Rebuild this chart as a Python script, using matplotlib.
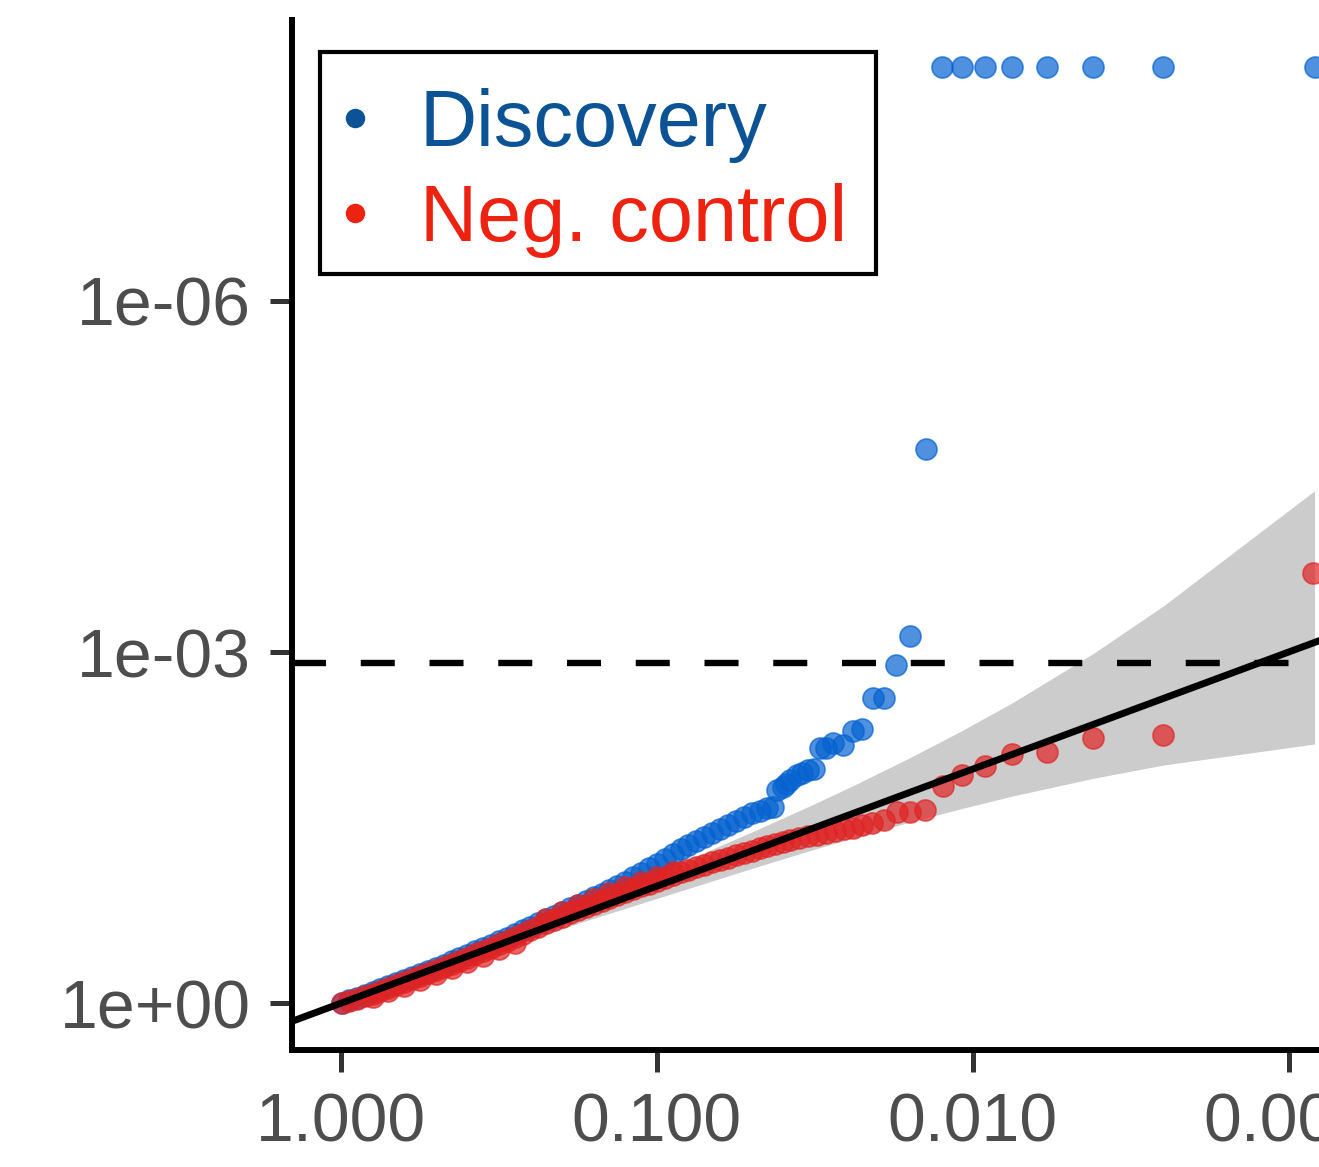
import matplotlib
matplotlib.use("Agg")
import numpy as np
import matplotlib.pyplot as plt
from matplotlib.patches import Rectangle
from matplotlib.lines import Line2D
from matplotlib.ticker import NullLocator

plt.rcParams['font.family'] = ['Liberation Sans', 'DejaVu Sans']
plt.rcParams['lines.scale_dashes'] = False

# values are -log10(p)
disc_exp = [3.082, 2.601, 2.380, 2.234, 2.123, 2.038, 1.965, 1.902,
            1.851, 1.801, 1.756, 1.718, 1.684, 1.649, 1.620, 1.589,
            1.557, 1.535, 1.516, 1.497, 1.478, 1.460, 1.443, 1.421,
            1.410, 1.399, 1.380, 1.367,
            1.350, 1.325, 1.300, 1.275, 1.250, 1.225, 1.200, 1.175,
            1.150, 1.125, 1.100, 1.075, 1.050, 1.025, 1.000, 0.975,
            0.950, 0.925, 0.900, 0.875, 0.850, 0.825, 0.800, 0.775,
            0.750, 0.725, 0.700, 0.675, 0.650, 0.625, 0.600, 0.575,
            0.550, 0.525, 0.500, 0.475, 0.450, 0.425, 0.400, 0.375,
            0.350, 0.325, 0.300, 0.275, 0.250, 0.225, 0.200, 0.175,
            0.150, 0.125, 0.100, 0.075, 0.050, 0.025, 0.003]
disc_obs = [8.0, 8.0, 8.0, 8.0, 8.0, 8.0, 8.0, 8.0,
            4.735, 3.137, 2.889, 2.607, 2.607, 2.342, 2.325, 2.205,
            2.222, 2.179, 2.179, 2.000, 1.991, 1.970, 1.949, 1.906,
            1.870, 1.846, 1.821, 1.675,
            1.665, 1.645, 1.625, 1.590, 1.555, 1.520, 1.485, 1.453,
            1.420, 1.388, 1.355, 1.314, 1.272, 1.231, 1.190, 1.151,
            1.112, 1.074, 1.035, 1.002, 0.970, 0.937, 0.905, 0.873,
            0.842, 0.810, 0.778, 0.747, 0.715, 0.684, 0.652, 0.621,
            0.590, 0.559, 0.528, 0.499, 0.470, 0.442, 0.413, 0.386,
            0.358, 0.330, 0.303, 0.277, 0.251, 0.226, 0.200, 0.174,
            0.147, 0.121, 0.095, 0.071, 0.047, 0.023, 0.000]

ctrl_exp = [3.076, 2.601, 2.380, 2.234, 2.123, 2.038, 1.965, 1.905,
            1.848, 1.801, 1.759, 1.718, 1.680, 1.649, 1.620, 1.592,
            1.563, 1.535, 1.506, 1.478, 1.449, 1.421,
            1.400, 1.375, 1.350, 1.325, 1.300, 1.275, 1.250, 1.225,
            1.200, 1.175, 1.150, 1.125, 1.100, 1.075, 1.050, 1.025,
            1.000, 0.975, 0.950, 0.925, 0.900, 0.875, 0.850, 0.825,
            0.800, 0.775, 0.750, 0.725, 0.700, 0.675, 0.650, 0.625,
            0.600, 0.575, 0.550, 0.525, 0.500, 0.475, 0.450, 0.425,
            0.400, 0.375, 0.350, 0.325, 0.300, 0.275, 0.250, 0.225,
            0.200, 0.175, 0.150, 0.125, 0.100, 0.075, 0.050, 0.025,
            0.003,
            # points on the upper and lower rim of the dense red ribbon
            1.050, 1.000, 0.950, 0.900, 0.850, 0.800, 0.750, 0.700,
            0.650, 0.550, 0.500, 0.450, 0.400, 0.350, 0.300, 0.250,
            0.200, 0.150, 0.100]
ctrl_obs = [3.675, 2.291, 2.265, 2.145, 2.128, 2.026, 1.949, 1.855,
            1.650, 1.632, 1.632, 1.564, 1.538, 1.521, 1.496, 1.487,
            1.470, 1.453, 1.436, 1.427, 1.410, 1.393,
            1.380, 1.361, 1.342, 1.323, 1.304, 1.284, 1.264, 1.243,
            1.223, 1.203, 1.182, 1.162, 1.142, 1.118, 1.094, 1.069,
            1.045, 1.021, 0.998, 0.974, 0.950, 0.924, 0.898, 0.872,
            0.846, 0.820, 0.793, 0.767, 0.740, 0.711, 0.681, 0.652,
            0.622, 0.592, 0.562, 0.532, 0.502, 0.474, 0.446, 0.418,
            0.390, 0.364, 0.337, 0.311, 0.284, 0.258, 0.231, 0.205,
            0.178, 0.153, 0.128, 0.103, 0.078, 0.058, 0.039, 0.019,
            0.000,
            1.120, 1.080, 1.035, 0.990, 0.940, 0.890, 0.835, 0.780,
            0.720, 0.515, 0.460, 0.405, 0.350, 0.300, 0.250, 0.200,
            0.150, 0.100, 0.050]

# 95% band around the diagonal
band_exp = [0.0004, 0.1795, 0.481, 0.783, 1.086, 1.311, 1.491, 1.620,
            1.803, 1.968, 2.128, 2.383, 2.605, 3.082]
band_lo = [0.0, 0.155, 0.434, 0.711, 0.968, 1.160, 1.309, 1.410,
           1.549, 1.665, 1.771, 1.922, 2.035, 2.214]
band_hi = [0.0027, 0.205, 0.532, 0.868, 1.212, 1.475, 1.694, 1.857,
           2.100, 2.332, 2.571, 2.990, 3.397, 4.378]

threshold = 0.00125

x_ticks = [1, 0.1, 0.01, 0.001]
x_labels = ["1.000", "0.100", "0.010", "0.001"]
y_ticks = [1, 1e-3, 1e-6]
y_labels = ["1e+00", "1e-03", "1e-06"]

legend_labels = ["Discovery", "Neg. control"]
legend_colors = ["#0b5394", "#ee2211"]
point_blue = "#0562d0"
point_red = "#e02424"

W, H = 1319, 1167
fig = plt.figure(figsize=(W / 100, H / 100), dpi=100)
ax = fig.add_axes([292 / W, (H - 1050) / H, (1366 - 292) / W, (1050 - 20) / H])
ax.set_xscale('log')
ax.set_yscale('log')
ax.set_xlim(10 ** 0.155, 10 ** -3.245)
ax.set_ylim(10 ** 0.40, 10 ** -8.4)

p = lambda v: 10.0 ** -np.asarray(v)

ax.fill_between(p(band_exp), p(band_lo), p(band_hi), color='#cccccc', lw=0, zorder=1)
ax.axhline(threshold, color='black', lw=4.6, dashes=(24.5, 25), zorder=2)
ax.scatter(p(disc_exp), p(disc_obs), s=230, color=point_blue, alpha=0.7,
           linewidths=1.2, zorder=3)
ax.scatter(p(ctrl_exp), p(ctrl_obs), s=230, color=point_red, alpha=0.7,
           linewidths=1.2, zorder=4)
ax.plot([10, 1e-5], [10, 1e-5], color='black', lw=5, zorder=5)

ax.set_xticks(x_ticks, x_labels)
ax.set_yticks(y_ticks, y_labels)
ax.xaxis.set_minor_locator(NullLocator())
ax.yaxis.set_minor_locator(NullLocator())
ax.tick_params(axis='both', which='major', length=15.8, width=3.6,
               color='#333333', labelcolor='#4d4d4d', labelsize=49, pad=14)
for side in ['top', 'right']:
    ax.spines[side].set_visible(False)
for side in ['left', 'bottom']:
    ax.spines[side].set_linewidth(4.3)
    ax.spines[side].set_color('black')

# legend box drawn by hand
fig.add_artist(Rectangle((320 / W, 1 - 274 / H), (876 - 320) / W, (274 - 52) / H,
                         transform=fig.transFigure, facecolor='white',
                         edgecolor='black', lw=3, zorder=10))
for lab, col, dot_y, base_y in zip(legend_labels, legend_colors, [118, 213], [146, 241]):
    fig.add_artist(Line2D([355 / W], [1 - dot_y / H], marker='o', ms=13,
                          color=col, transform=fig.transFigure, zorder=11))
    fig.text(420 / W, 1 - base_y / H, lab, color=col, fontsize=57,
             va='baseline', ha='left', zorder=11)

fig.savefig("out.png", dpi=100)
